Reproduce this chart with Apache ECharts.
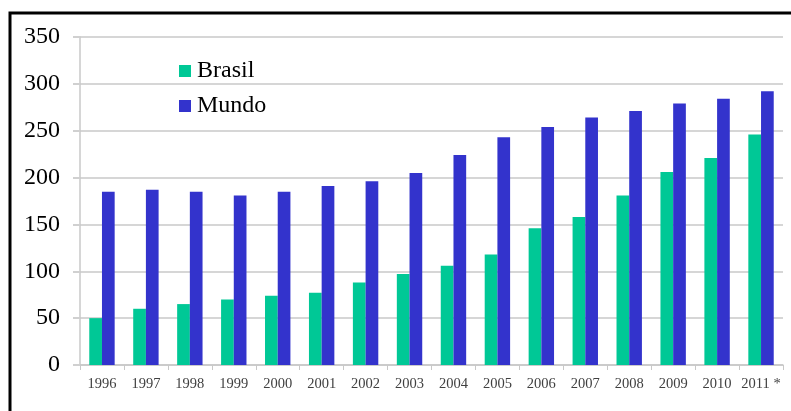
<!DOCTYPE html>
<html>
<head>
<meta charset="utf-8">
<script src="https://cdn.jsdelivr.net/npm/echarts@6/dist/echarts.min.js"></script>
<style>
  html, body { margin: 0; padding: 0; background: #fff; }
  #chart { width: 791px; height: 411px; }
</style>
</head>
<body>
<div id="chart"></div>
<script>
// Yearly values, Brasil vs. Mundo
const years = ['1996', '1997', '1998', '1999', '2000', '2001', '2002', '2003',
               '2004', '2005', '2006', '2007', '2008', '2009', '2010', '2011 *'];
const brasil = [50, 60, 65, 70, 74, 77, 88, 97, 106, 118, 146, 158, 181, 206, 221, 246];
const mundo = [185, 187, 185, 181, 185, 191, 196, 205, 224, 243, 254, 264, 271, 279, 284, 292];
const yTicks = { min: 0, max: 350, interval: 50 };

const serif = "'Liberation Serif', 'Times New Roman', serif";
const chart = echarts.init(document.getElementById('chart'));

chart.setOption({
  animation: false,
  backgroundColor: '#fff',
  graphic: [{
    type: 'rect',
    shape: { x: 10, y: 13, width: 800, height: 420 },
    style: { fill: 'none', stroke: '#000', lineWidth: 3 },
    silent: true
  }],
  grid: { left: 80, right: 8, top: 37, bottom: 46 },
  legend: {
    orient: 'vertical',
    left: 179,
    top: 59,
    padding: 0,
    icon: 'rect',
    itemWidth: 12,
    itemHeight: 12,
    itemGap: 11,
    itemStyle: { borderWidth: 0 },
    textStyle: { fontFamily: serif, fontSize: 24, color: '#000', padding: [0, 0, 0, 1] },
    data: ['Brasil', 'Mundo']
  },
  xAxis: {
    type: 'category',
    data: years,
    axisLine: { lineStyle: { color: '#c8c8c8', width: 1.5 } },
    axisTick: { show: true, length: 5, interval: 0, lineStyle: { color: '#c8c8c8' } },
    axisLabel: { interval: 0, fontFamily: serif, fontSize: 14.5, color: '#404040', margin: 12 }
  },
  yAxis: {
    type: 'value',
    min: yTicks.min,
    max: yTicks.max,
    interval: yTicks.interval,
    axisLine: { show: true, lineStyle: { color: '#c8c8c8', width: 1.5 } },
    axisTick: { show: true, length: 7, lineStyle: { color: '#d0d0d0', width: 2 } },
    splitLine: { lineStyle: { color: '#d6d6d6', width: 2 } },
    axisLabel: { fontFamily: serif, fontSize: 24, color: '#000', margin: 20 }
  },
  series: [
    {
      name: 'Brasil',
      type: 'bar',
      data: brasil,
      barWidth: 12.7,
      barGap: '0%',
      itemStyle: { color: '#00c896' }
    },
    {
      name: 'Mundo',
      type: 'bar',
      data: mundo,
      barWidth: 12.7,
      itemStyle: { color: '#3333cc' }
    }
  ]
});
</script>
</body>
</html>
